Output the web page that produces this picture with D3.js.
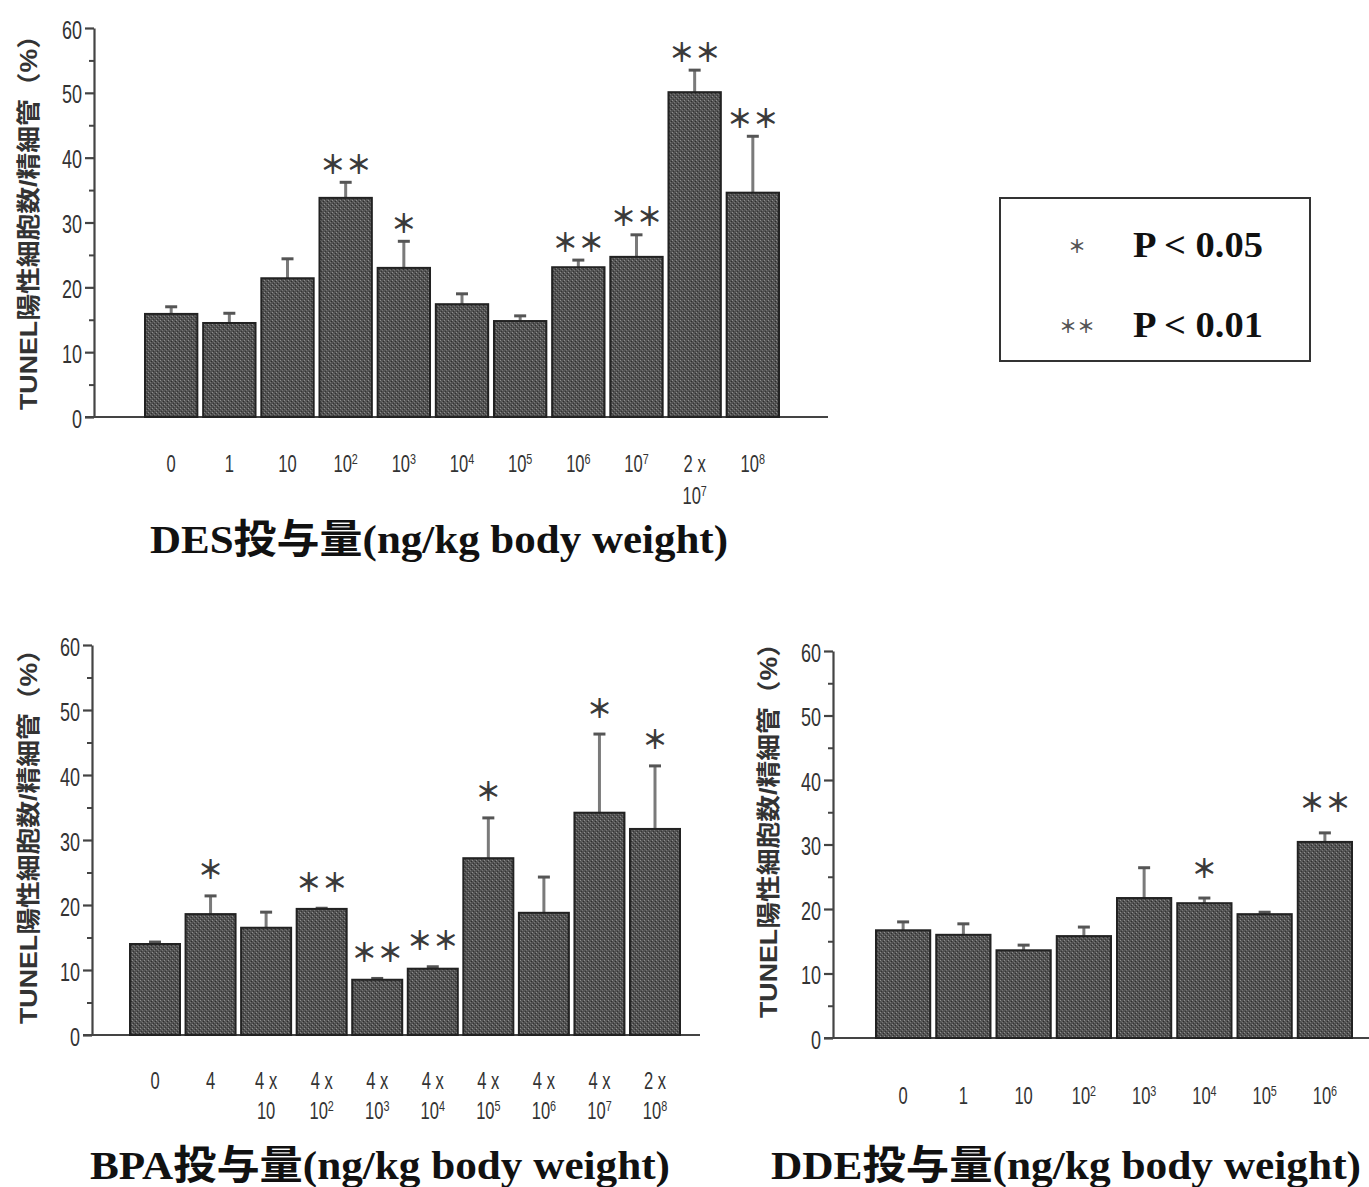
<!DOCTYPE html>
<html>
<head>
<meta charset="utf-8">
<script src="https://cdn.jsdelivr.net/npm/d3@7"></script>
<style>
  body { margin: 0; background: #fff; }
</style>
</head>
<body>
<svg id="chart" width="1369" height="1187"></svg>
<script>
// y axis
const yTicks = [0, 10, 20, 30, 40, 50, 60];
const yMinorTicks = [5, 15, 25, 35, 45, 55];
const yLabel = "TUNEL陽性細胞数/精細管（%）";

// DES
const desLabels = ["0", "1", "10", "10^2", "10^3", "10^4", "10^5", "10^6", "10^7", "2 x|10^7", "10^8"];
const desMeans = [15.9, 14.5, 21.4, 33.8, 23.0, 17.4, 14.8, 23.1, 24.7, 50.1, 34.6];
const desErrors = [1.1, 1.5, 3.0, 2.4, 4.1, 1.6, 0.8, 1.1, 3.4, 3.4, 8.7];
const desSig = ["", "", "", "＊＊", "＊", "", "", "＊＊", "＊＊", "＊＊", "＊＊"];

// BPA
const bpaLabels = ["0", "4", "4 x|10", "4 x|10^2", "4 x|10^3", "4 x|10^4", "4 x|10^5", "4 x|10^6", "4 x|10^7", "2 x|10^8"];
const bpaMeans = [14.0, 18.6, 16.5, 19.4, 8.5, 10.2, 27.2, 18.8, 34.2, 31.7];
const bpaErrors = [0.3, 2.8, 2.4, 0.1, 0.2, 0.3, 6.2, 5.5, 12.1, 9.7];
const bpaSig = ["", "＊", "", "＊＊", "＊＊", "＊＊", "＊", "", "＊", "＊"];

// DDE
const ddeLabels = ["0", "1", "10", "10^2", "10^3", "10^4", "10^5", "10^6"];
const ddeMeans = [16.7, 16.0, 13.6, 15.8, 21.7, 20.9, 19.2, 30.4];
const ddeErrors = [1.3, 1.7, 0.8, 1.4, 4.7, 0.8, 0.3, 1.4];
const ddeSig = ["", "", "", "", "", "＊", "", "＊＊"];

// legend
const legendMarks = ["＊", "＊＊"];
const legendTexts = ["P < 0.05", "P < 0.01"];

const NARROW = "'Liberation Sans Narrow','Arial Narrow','Liberation Sans','Noto Sans CJK JP',sans-serif";
const SERIF = "'Liberation Serif','Noto Sans CJK JP',serif";
const CJK = "'Noto Sans CJK JP',sans-serif";
const SQUEEZE = 0.72; // no narrow font here, so squeeze horizontally

const svg = d3.select("#chart");

// stippled grey fill like the printed bars
const defs = svg.append("defs");
const pat = defs.append("pattern").attr("id", "stipple")
  .attr("width", 4).attr("height", 4).attr("patternUnits", "userSpaceOnUse");
pat.append("rect").attr("width", 4).attr("height", 4).attr("fill", "#525252");
[[0, 0, "#8e8e8e"], [2, 2, "#767676"], [3, 1, "#2e2e2e"], [1, 3, "#353535"], [1, 1, "#626262"]]
  .forEach(d => pat.append("rect").attr("x", d[0]).attr("y", d[1]).attr("width", 1).attr("height", 1).attr("fill", d[2]));

const panels = [
  { name: "DES", labels: desLabels, means: desMeans, errors: desErrors, sig: desSig,
    axisX: 94, y0: 417, y60: 28, barLeft: 145, barRight: 779, xEnd: 828,
    tickY: 472, lineH: 32, starGap: 20,
    title: "DES投与量(ng/kg body weight)", titleX: 439, titleY: 553, titleLen: 578,
    ylabX: 28, ylabY: 216 },
  { name: "BPA", labels: bpaLabels, means: bpaMeans, errors: bpaErrors, sig: bpaSig,
    axisX: 92, y0: 1035, y60: 645, barLeft: 130, barRight: 680, xEnd: 700,
    tickY: 1089, lineH: 30, starGap: 28,
    title: "BPA投与量(ng/kg body weight)", titleX: 380, titleY: 1179, titleLen: 580,
    ylabX: 28, ylabY: 830 },
  { name: "DDE", labels: ddeLabels, means: ddeMeans, errors: ddeErrors, sig: ddeSig,
    axisX: 833, y0: 1038, y60: 651, barLeft: 876, barRight: 1352, xEnd: 1369,
    tickY: 1104, lineH: 30, starGap: 32,
    title: "DDE投与量(ng/kg body weight)", titleX: 1066, titleY: 1179, titleLen: 590,
    ylabX: 768, ylabY: 824 }
];

function drawLabel(g, label, cx, y0, lineH) {
  label.split("|").forEach((line, j) => {
    const t = g.append("text")
      .attr("transform", `translate(${cx},${y0 + j * lineH}) scale(${SQUEEZE},1)`)
      .attr("text-anchor", "middle")
      .attr("font-family", NARROW).attr("font-size", 23).attr("fill", "#333");
    const parts = line.split("^");
    t.append("tspan").text(parts[0]);
    if (parts[1]) {
      t.append("tspan").attr("dy", -8).attr("font-size", 15).text(parts[1]);
    }
  });
}

function drawPanel(p) {
  const x = d3.scaleBand().domain(d3.range(p.means.length))
    .range([p.barLeft, p.barRight]).paddingInner(0.1).paddingOuter(0);
  const y = d3.scaleLinear().domain([0, 60]).range([p.y0, p.y60]);
  const g = svg.append("g").attr("class", "panel-" + p.name);

  // minor ticks
  const minor = g.append("g").attr("transform", `translate(${p.axisX},0)`)
    .call(d3.axisLeft(y).tickValues(yMinorTicks).tickSize(5).tickFormat(""));
  minor.select(".domain").remove();
  minor.selectAll("line").attr("stroke", "#444").attr("stroke-width", 2);

  // major ticks + axis line
  const ax = g.append("g").attr("transform", `translate(${p.axisX},0)`)
    .call(d3.axisLeft(y).tickValues(yTicks).tickSize(9).tickSizeOuter(0).tickPadding(3));
  ax.selectAll("path,line").attr("stroke", "#444").attr("stroke-width", 2.2);
  ax.selectAll("text").attr("font-family", NARROW).attr("font-size", 25)
    .attr("fill", "#333").attr("dy", "0.4em")
    .attr("x", -12 / SQUEEZE).attr("transform", `scale(${SQUEEZE},1)`);

  // baseline
  g.append("line")
    .attr("x1", p.axisX - 9).attr("x2", p.xEnd)
    .attr("y1", y(0)).attr("y2", y(0))
    .attr("stroke", "#444").attr("stroke-width", 2.2);

  const idx = d3.range(p.means.length);

  // error bars (upper only)
  g.selectAll(".err").data(idx).enter().append("line")
    .attr("x1", i => x(i) + x.bandwidth() / 2).attr("x2", i => x(i) + x.bandwidth() / 2)
    .attr("y1", i => y(p.means[i])).attr("y2", i => y(p.means[i] + p.errors[i]))
    .attr("stroke", "#7a7a7a").attr("stroke-width", 3);
  g.selectAll(".cap").data(idx).enter().append("line")
    .attr("x1", i => x(i) + x.bandwidth() / 2 - 6).attr("x2", i => x(i) + x.bandwidth() / 2 + 6)
    .attr("y1", i => y(p.means[i] + p.errors[i])).attr("y2", i => y(p.means[i] + p.errors[i]))
    .attr("stroke", "#555").attr("stroke-width", 3);

  // bars
  g.selectAll(".bar").data(idx).enter().append("rect")
    .attr("x", i => x(i)).attr("width", x.bandwidth())
    .attr("y", i => y(p.means[i])).attr("height", i => y(0) - y(p.means[i]))
    .attr("fill", "url(#stipple)").attr("stroke", "#222").attr("stroke-width", 2);

  // significance marks
  g.selectAll(".sig").data(idx.filter(i => p.sig[i])).enter().append("text")
    .attr("x", i => x(i) + x.bandwidth() / 2)
    .attr("y", i => y(p.means[i] + p.errors[i]) - p.starGap)
    .attr("text-anchor", "middle").attr("dominant-baseline", "central")
    .attr("font-family", CJK).attr("font-weight", "bold").attr("font-size", 26).attr("fill", "#3a3a3a")
    .text(i => p.sig[i]);

  // category labels
  idx.forEach(i => drawLabel(g, p.labels[i], x(i) + x.bandwidth() / 2, p.tickY, p.lineH));

  // x title
  g.append("text")
    .attr("x", p.titleX).attr("y", p.titleY).attr("text-anchor", "middle")
    .attr("font-family", SERIF).attr("font-weight", "bold").attr("font-size", 40)
    .attr("fill", "#111")
    .attr("textLength", p.titleLen).attr("lengthAdjust", "spacingAndGlyphs")
    .text(p.title);

  // y title
  g.append("text")
    .attr("transform", `translate(${p.ylabX},${p.ylabY}) rotate(-90)`)
    .attr("text-anchor", "middle").attr("dominant-baseline", "central")
    .attr("font-family", NARROW).attr("font-weight", "bold").attr("font-size", 24)
    .attr("fill", "#333")
    .attr("textLength", 388).attr("lengthAdjust", "spacingAndGlyphs")
    .text(yLabel);
}

panels.forEach(drawPanel);

// legend
const leg = svg.append("g").attr("class", "legend");
leg.append("rect").attr("x", 1000).attr("y", 198).attr("width", 310).attr("height", 163)
  .attr("fill", "none").attr("stroke", "#333").attr("stroke-width", 2);
legendMarks.forEach((m, i) => {
  leg.append("text").attr("x", 1077).attr("y", 245 + i * 80)
    .attr("text-anchor", "middle").attr("dominant-baseline", "central")
    .attr("font-family", CJK).attr("font-weight", "bold").attr("font-size", 18).attr("fill", "#555")
    .text(m);
  leg.append("text").attr("x", 1133).attr("y", 257 + i * 80)
    .attr("font-family", SERIF).attr("font-weight", "bold").attr("font-size", 36)
    .attr("fill", "#111")
    .attr("textLength", 130).attr("lengthAdjust", "spacingAndGlyphs")
    .text(legendTexts[i]);
});
</script>
</body>
</html>
